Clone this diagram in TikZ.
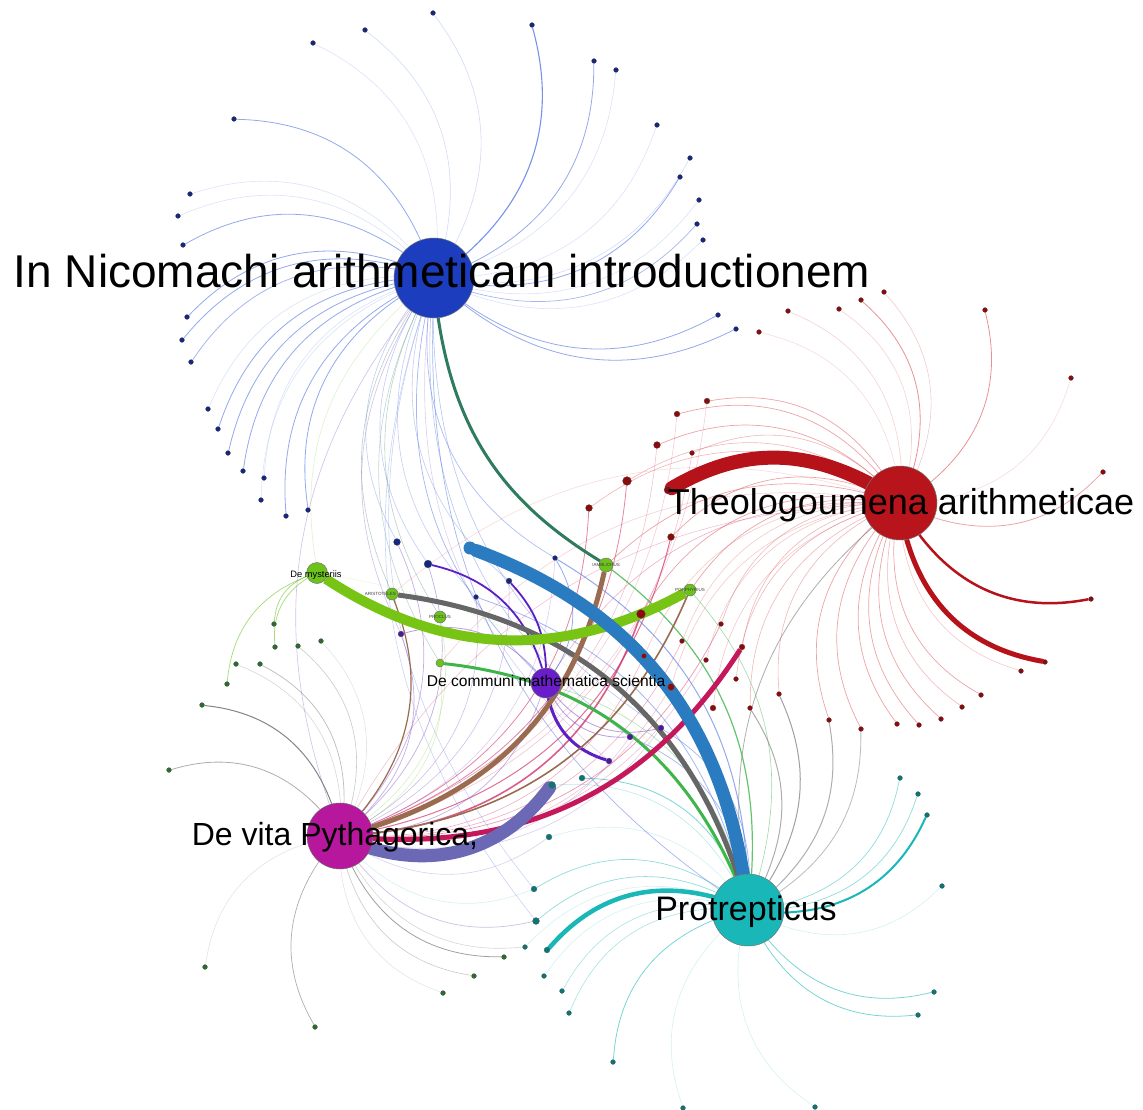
\documentclass[tikz,border=0pt]{standalone}
\usepackage{fontspec}
\setmainfont{Liberation Sans}
\pgfdeclarelayer{edges}
\pgfdeclarelayer{labels}
\pgfsetlayers{edges,main,labels}
% hub colours
\definecolor{nicblue}{HTML}{1C3DBE}
\definecolor{theored}{HTML}{B8141B}
\definecolor{compurple}{HTML}{6A1ECA}
\definecolor{vitamag}{HTML}{B6179D}
\definecolor{protteal}{HTML}{19B7B8}
\definecolor{mysgreen}{HTML}{6CC31A}
% leaf colours
\definecolor{leafblue}{HTML}{16277F}
\definecolor{leafred}{HTML}{8A0B0B}
\definecolor{leafteal}{HTML}{0F7474}
\definecolor{leafgreen}{HTML}{2D6B2D}
\definecolor{leafpurple}{HTML}{4A1A9E}
% edge colours
\definecolor{edgeblue}{HTML}{4A6FE0}
\definecolor{edgered}{HTML}{D9484D}
\definecolor{edgeteal}{HTML}{22B8B8}
\definecolor{edgegray}{HTML}{777777}
\definecolor{edgegreen}{HTML}{7CCB3A}
\definecolor{edgepurple}{HTML}{8A5CC8}
\definecolor{edgepink}{HTML}{D2336A}
\definecolor{thickblue}{HTML}{2A7BC0}
\definecolor{thickred}{HTML}{B5121A}
\definecolor{thickgreen}{HTML}{78C414}
\definecolor{thickgray}{HTML}{666666}
\definecolor{brownedge}{HTML}{9B6B4F}
\definecolor{crimson}{HTML}{C4185A}
\definecolor{slate}{HTML}{6B68B5}
\definecolor{darkgreen}{HTML}{2E7B5E}
\definecolor{midgreen}{HTML}{3DB54A}
\definecolor{deeppurple}{HTML}{5B1FC4}
\begin{document}
\begin{tikzpicture}[x=1pt,y=-1pt,
  hub/.style={circle,draw=black!55,line width=0.5pt,inner sep=0pt,minimum size=#1},
  leaf/.style={circle,fill=#1,draw=black!60,line width=0.2pt,inner sep=0pt,minimum size=5pt},
  cw/.style={bend right=#1}, cw/.default=32,
  lbl/.style={text=black,inner sep=0pt,anchor=base},
  tiny/.style={text=black!75,inner sep=0pt,font=\fontsize{4.5}{5}\selectfont},
]
\useasboundingbox (0,0) rectangle (1143,1110);

% ---- main works ----
\node[hub=80pt,fill=nicblue] (N) at (434,278) {};
\node[hub=74pt,fill=theored] (T) at (900,503) {};
\node[hub=30pt,fill=compurple] (C) at (546,683) {};
\node[hub=66pt,fill=vitamag] (V) at (340,836) {};
\node[hub=72pt,fill=protteal] (P) at (748,910) {};
\node[hub=21pt,fill=mysgreen] (M) at (317,573) {};
% ---- authors ----
\node[hub=14pt,fill=mysgreen] (I) at (606,565) {};
\node[hub=12pt,fill=mysgreen] (Po) at (690,590) {};
\node[hub=12pt,fill=mysgreen] (A) at (392,594) {};
\node[hub=12pt,fill=mysgreen] (Pr) at (440,617) {};
\node[hub=8pt,fill=mysgreen] (G1) at (440,663) {};
\node[circle,fill=thickblue,inner sep=0pt,minimum size=13pt] (Bb) at (470,548) {};

% ---- leaves of In Nicomachi ----
\foreach \x/\y/\s/\op/\w [count=\i] in {
 433/13/5/0.25/0.6, 532/25/5/0.75/1.1, 365/30/5/0.25/0.6, 313/43/5/0.2/0.6,
 594/61/5/0.6/0.8, 616/70/5/0.2/0.6, 234/119/5/0.6/0.8, 657/125/5/0.2/0.6,
 690/158/5/0.25/0.6, 680/177/5/0.6/0.8, 699/200/5/0.2/0.6, 697/224/5/0.5/0.7,
 703/240/5/0.2/0.6, 190/194/5/0.2/0.6, 178/216/5/0.2/0.6, 183/245/5/0.6/0.8,
 718/315/5/0.6/0.8, 736/329/5/0.6/0.8, 187/317/5/0.6/0.8, 182/340/5/0.6/0.8,
 191/362/5/0.5/0.8, 208/409/5/0.2/0.6, 218/429/5/0.6/0.8, 228/453/5/0.6/0.8,
 243/471/5/0.6/0.8, 264/478/5/0.2/0.6, 261/500/5/0.2/0.6, 286/516/5/0.6/0.8,
 308/510/5/0.6/0.8, 397/542/7/0.35/0.6, 428/564/8/0.35/0.6, 476/597/5/0.35/0.6,
 555/558/5/0.45/0.7, 509/581/6/0.35/0.6}{
  \node[leaf=leafblue,minimum size=\s pt] (b\i) at (\x,\y) {};
  \begin{pgfonlayer}{edges}
    \draw[draw=edgeblue,draw opacity=\op,line width=\w pt] (N) to[cw] (b\i);
  \end{pgfonlayer}
}

% ---- leaves of Theologoumena ----
\foreach \x/\y/\s/\op/\w [count=\i] in {
 884/292/5/0.3/0.6, 861/300/5/0.6/0.8, 839/309/5/0.25/0.6, 788/311/5/0.25/0.6,
 985/310/5/0.6/0.8, 759/332/5/0.2/0.6, 1071/378/5/0.2/0.6, 1103/472/5/0.5/0.8,
 707/401/6/0.5/0.7, 677/414/6/0.5/0.7, 657/445/7/0.5/0.7, 692/453/5/0.4/0.6,
 627/481/9/0.4/0.6, 589/508/7/0.4/0.6, 671/537/7/0.5/0.7, 641/614/9/0.5/0.7,
 682/641/5/0.3/0.6, 721/624/5/0.4/0.6, 742/647/6/0.4/0.6, 706/660/5/0.3/0.6,
 736/679/5/0.4/0.6, 713/708/6/0.3/0.6, 750/708/5/0.4/0.6, 779/694/5/0.4/0.6,
 829/720/5/0.5/0.7, 861/729/5/0.5/0.7, 897/724/5/0.5/0.7, 919/725/5/0.5/0.7,
 941/719/5/0.5/0.7, 962/707/5/0.4/0.6, 981/695/5/0.5/0.7, 1021/671/5/0.3/0.6,
 1045/662/5/0/0.6, 1091/599/5/0/0.6, 644/656/5/0.3/0.6, 671/687/7/0.3/0.6,
 668/490/8/0/0.6}{
  \node[leaf=leafred,minimum size=\s pt] (r\i) at (\x,\y) {};
  \begin{pgfonlayer}{edges}
    \draw[draw=edgered,draw opacity=\op,line width=\w pt] (T) to[cw] (r\i);
  \end{pgfonlayer}
}

% ---- leaves of Protrepticus ----
\foreach \x/\y/\s/\op/\w [count=\i] in {
 900/778/5/0.5/0.7, 918/794/5/0.5/0.7, 927/815/5/0/0.6, 942/886/5/0.2/0.6,
 934/992/5/0.6/0.8, 918/1015/5/0.6/0.8, 613/1062/5/0.6/0.8, 683/1108/5/0.2/0.6,
 815/1107/5/0.2/0.6, 582/778/6/0.6/0.8, 549/837/6/0.2/0.6, 534/889/6/0.5/0.7,
 536/921/7/0.5/0.7, 525/947/5/0.2/0.6, 547/950/6/0/0.6, 544/976/5/0.2/0.6,
 562/991/5/0.4/0.6, 569/1013/5/0.4/0.6, 552/785/7/0.3/0.6}{
  \node[leaf=leafteal,minimum size=\s pt] (t\i) at (\x,\y) {};
  \begin{pgfonlayer}{edges}
    \draw[draw=edgeteal,draw opacity=\op,line width=\w pt] (P) to[cw] (t\i);
  \end{pgfonlayer}
}

% ---- leaves of De vita Pythagorica ----
\foreach \x/\y [count=\i] in {
 274/624, 275/647, 298/646, 321/641, 236/664, 260/664, 227/684, 202/705,
 169/770, 205/967, 315/1027, 504/957, 474/976, 443/993}{
  \node[leaf=leafgreen] (g\i) at (\x,\y) {};
}
\foreach \x/\y [count=\i] in {401/634, 630/737, 661/728, 609/761}{
  \node[leaf=leafpurple,minimum size=6pt] (u\i) at (\x,\y) {};
}

\begin{pgfonlayer}{edges}
  % De vita: grey and green leaves
  \foreach \tg/\op/\w in {g3/0.4/0.6, g4/0.2/0.6, g5/0.3/0.6, g6/0.5/0.7,
    g8/0.9/1, g9/0.6/0.8, g10/0.2/0.6, g11/0.6/0.7, g12/0.7/0.8,
    g13/0.4/0.6, g14/0.2/0.6}
    \draw[draw=edgegray,draw opacity=\op,line width=\w pt] (V) to[cw] (\tg);
  \foreach \tg in {g1,g2,g7}
    \draw[draw=edgegreen,draw opacity=0.7,line width=0.7pt] (M) to[cw] (\tg);
  \foreach \tg/\col/\op/\w in {t11/edgepurple/0.3/0.6, t12/edgeteal/0.2/0.6,
    t13/edgepurple/0.4/0.7, t14/edgegray/0.3/0.6}
    \draw[draw=\col,draw opacity=\op,line width=\w pt] (V) to[cw] (\tg);
  % De vita: fan towards the centre
  \foreach \tg/\col/\op/\w in {r13/edgepink/0.6/0.8, r14/edgepink/0.6/0.8,
    r15/edgepink/0.7/1, r16/edgepink/0.8/1.6, r17/edgepink/0.4/0.6,
    r18/edgepink/0.5/0.7, r20/edgepink/0.3/0.6, r35/edgepink/0.4/0.6,
    r36/edgepink/0.3/0.6, r11/edgepink/0.3/0.6, r12/edgepink/0.3/0.6,
    r9/edgepink/0.25/0.6, r10/edgepink/0.25/0.6,
    b30/edgepurple/0.5/0.7, b31/edgepurple/0.5/0.7, b32/edgepurple/0.4/0.6,
    b33/edgepurple/0.3/0.6, b34/edgepurple/0.4/0.6, C/edgepurple/0.5/0.7,
    Pr/edgegreen/0.3/0.6, G1/edgegreen/0.3/0.6, u1/edgepurple/0.5/0.7,
    u2/edgepurple/0.3/0.6, u3/edgepurple/0.3/0.6}
    \draw[draw=\col,draw opacity=\op,line width=\w pt] (V) to[cw] (\tg);
  % In Nicomachi: lines into the centre
  \foreach \tg/\col/\op/\w in {C/edgeblue/0.5/0.7, V/edgepurple/0.4/0.6,
    Pr/darkgreen/0.35/0.6, A/darkgreen/0.35/0.6, G1/darkgreen/0.3/0.6,
    P/edgeblue/0.5/0.7, M/edgegreen/0.25/0.6, u1/edgepurple/0.4/0.6,
    u2/edgeblue/0.4/0.6, u3/edgeblue/0.4/0.6, u4/edgepurple/0.3/0.6,
    t13/edgeblue/0.3/0.6, t12/edgeblue/0.3/0.6}
    \draw[draw=\col,draw opacity=\op,line width=\w pt] (N) to[cw=28] (\tg);
  % Theologoumena: lines into the centre
  \foreach \tg/\col/\op/\w in {I/edgered/0.5/0.7, Po/edgered/0.5/0.7,
    P/edgegray/0.6/0.8, C/edgepink/0.4/0.6, V/edgepink/0.3/0.6,
    G1/edgered/0.25/0.6, A/edgered/0.2/0.6}
    \draw[draw=\col,draw opacity=\op,line width=\w pt] (T) to[cw=28] (\tg);
  % Protrepticus: lines into the centre
  \foreach \tg/\col/\op/\w in {I/midgreen/0.8/1.2, Po/midgreen/0.5/0.6,
    r23/edgegray/0.6/1, r24/edgegray/0.7/1, r25/edgegray/0.6/1,
    r26/edgegray/0.5/0.8, b33/edgeblue/0.6/1, b32/edgeblue/0.5/0.8,
    C/midgreen/0.4/0.6, u2/edgeblue/0.5/0.7, u3/edgeblue/0.5/0.7,
    M/edgegreen/0.15/0.6}
    \draw[draw=\col,draw opacity=\op,line width=\w pt] (P) to[cw=28] (\tg);
  % De communi mathematica scientia
  \draw[draw=deeppurple,line width=3pt] (C) to[cw=30] (u4);
  \draw[draw=deeppurple,line width=1.8pt] (C) to[cw=30] (b31);
  \draw[draw=deeppurple,line width=1.8pt] (C) to[cw=20] (b34);
  \foreach \tg in {u1,u2,u3}
    \draw[draw=edgepurple,draw opacity=0.6,line width=0.8pt] (C) to[cw] (\tg);
  \draw[draw=edgeblue,draw opacity=0.6,line width=0.8pt] (C) to[cw] (b33);

  % ---- heavy connections ----
  \draw[draw=darkgreen,line width=3pt] (N) to[cw=25] (I);
  \draw[draw=brownedge,line width=1.2pt] (V) to[cw=30] (A);
  \draw[draw=brownedge,line width=1.6pt] (V) to[cw=30] (Po);
  \draw[draw=midgreen,line width=3pt] (P) to[cw=30] (G1);
  \draw[draw=thickgray,line width=5pt] (P) to[cw=32] (A);
  \draw[draw=brownedge,line width=5pt] (V) to[cw=30] (I);
  \draw[draw=crimson,line width=5pt] (V) to[cw=30] (r19);
  \draw[draw=thickgreen,line width=10pt] (M) to[cw=31] (Po);
  \draw[draw=thickblue,line width=13pt,line cap=round] (P) to[cw=30] (Bb);
  \draw[draw=slate,line width=13pt,line cap=round] (V) to[cw=35] (t19);
  \draw[draw=protteal,line width=4.5pt,line cap=round] (P) to[cw=32] (t15);
  \draw[draw=protteal,line width=2pt] (P) to[cw=32] (t3);
  \draw[draw=thickred,line width=14pt,line cap=round] (T) to[cw=29] (r37);
  \draw[draw=thickred,line width=5pt,line cap=round] (T) to[cw=32] (r33);
  \draw[draw=thickred,line width=2.5pt] (T) to[cw=32] (r34);
\end{pgfonlayer}

% ---- labels ----
\begin{pgfonlayer}{labels}
  \node[lbl,font=\fontsize{46}{50}\selectfont] (labN) at (442,287) {In Nicomachi arithmeticam introductionem};
  \node[lbl,font=\fontsize{36}{40}\selectfont] (labT) at (901,514) {Theologoumena arithmeticae};
  \node[lbl,font=\fontsize{34}{38}\selectfont] (labP) at (746,920) {Protrepticus};
  \node[lbl,font=\fontsize{32}{36}\selectfont] (labV) at (335,845) {De vita Pythagorica,};
  \node[lbl,font=\fontsize{15.6}{18}\selectfont] (labC) at (546,686) {De communi mathematica scientia};
  \node[lbl,font=\fontsize{9.3}{11}\selectfont] (labM) at (316,577) {De mysteriis};
  \node[tiny] (labI) at (606,565) {IAMBLICHUS};
  \node[tiny] (labPo) at (690,590) {PORPHYRIUS};
  \node[tiny] (labPr) at (440,617) {PROCLUS};
  \node[tiny,anchor=east] (labA) at (396,594) {ARISTOTELES};
\end{pgfonlayer}
\end{tikzpicture}
\end{document}
